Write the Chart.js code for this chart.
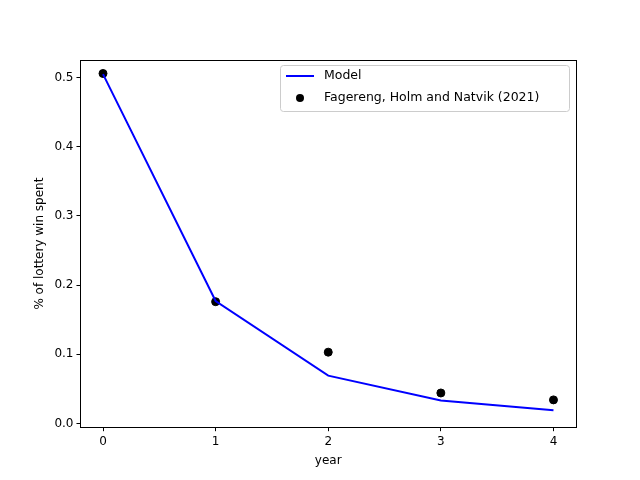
<!DOCTYPE html>
<html lang="en">
<head>
<meta charset="UTF-8">
<script src="https://cdn.jsdelivr.net/npm/chart.js"></script>
<style>
  body { margin: 0; background: white; }
  #wrap { width: 640px; height: 480px; }
</style>
</head>
<body>
<div id="wrap"><canvas id="c" width="640" height="480"></canvas></div>
<script>
const years = [0, 1, 2, 3, 4];
const modelValues = [0.505, 0.177, 0.069, 0.033, 0.019];
const studyValues = [0.506, 0.176, 0.103, 0.044, 0.034];
const modelLabel = 'Model';
const studyLabel = 'Fagereng, Holm and Natvik (2021)';

// full frame around the plot area plus a boxed legend, matplotlib style
const boxLegend = {
  id: 'boxLegend',
  afterDraw(chart) {
    const ctx = chart.ctx;
    const a = chart.chartArea;
    ctx.save();
    ctx.strokeStyle = 'black'; ctx.lineWidth = 1;
    ctx.strokeRect(Math.round(a.left) + 0.5, Math.round(a.top) + 0.5,
      Math.round(a.right - a.left), Math.round(a.bottom - a.top));
    const w = 289, h = 46;
    const x = a.right - w - 7, y = a.top + 5;
    ctx.fillStyle = 'rgba(255,255,255,0.8)';
    ctx.strokeStyle = '#ccc';
    ctx.beginPath();
    ctx.roundRect(x + 0.5, y + 0.5, w, h, 3);
    ctx.fill(); ctx.stroke();
    ctx.strokeStyle = 'blue'; ctx.lineWidth = 2;
    ctx.beginPath(); ctx.moveTo(x + 6, y + 11); ctx.lineTo(x + 34, y + 11); ctx.stroke();
    ctx.fillStyle = 'black';
    ctx.beginPath(); ctx.arc(x + 20, y + 33, 4, 0, Math.PI * 2); ctx.fill();
    ctx.font = '12.5px "DejaVu Sans"';
    ctx.textBaseline = 'middle';
    ctx.fillText(modelLabel, x + 44, y + 11);
    ctx.fillText(studyLabel, x + 44, y + 33);
    ctx.restore();
  }
};

const tickFont = { family: 'DejaVu Sans', size: 12 };
new Chart(document.getElementById('c'), {
  type: 'scatter',
  data: {
    datasets: [
      {
        type: 'line', label: modelLabel,
        data: years.map((x, i) => ({ x: x, y: modelValues[i] })),
        borderColor: 'blue', borderWidth: 2, pointRadius: 0, fill: false, tension: 0
      },
      {
        label: studyLabel,
        data: years.map((x, i) => ({ x: x, y: studyValues[i] })),
        backgroundColor: 'black', borderColor: 'black', pointRadius: 4
      }
    ]
  },
  options: {
    responsive: false,
    animation: false,
    layout: { padding: { top: 60, right: 64, bottom: 10, left: 29 } },
    plugins: { legend: { display: false }, tooltip: { enabled: false } },
    scales: {
      x: {
        type: 'linear', min: -0.2, max: 4.2,
        border: { color: 'black', width: 1 },
        grid: { drawOnChartArea: false, tickLength: 4, color: 'black' },
        ticks: { stepSize: 1, color: 'black', font: tickFont,
          callback: v => Number.isInteger(v) ? v : '' },
        afterBuildTicks: s => { s.ticks = years.map(v => ({ value: v })); },
        title: { display: true, text: 'year', color: 'black', font: tickFont, padding: 2 }
      },
      y: {
        min: -0.0055, max: 0.5255,
        border: { color: 'black', width: 1 },
        grid: { drawOnChartArea: false, tickLength: 4, color: 'black' },
        afterBuildTicks: s => { s.ticks = [0, 0.1, 0.2, 0.3, 0.4, 0.5].map(v => ({ value: v })); },
        ticks: { color: 'black', font: tickFont, callback: v => v.toFixed(1) },
        title: { display: true, text: '% of lottery win spent', color: 'black', font: tickFont, padding: 4 }
      }
    }
  },
  plugins: [boxLegend]
});
</script>
</body>
</html>
